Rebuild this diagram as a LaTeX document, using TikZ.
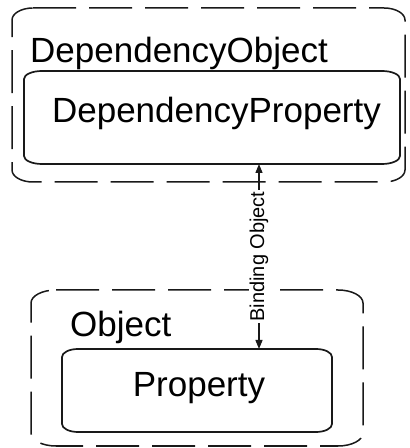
\documentclass[tikz,border=0pt]{standalone}
\usepackage{fontspec}
\setmainfont{Liberation Sans}
\usetikzlibrary{calc,arrows.meta}

% Frame with elliptical corners around a (textless) node: node, x radius, y radius, draw options
\newcommand{\ovalframe}[4]{%
  \draw[#4] let \p1=(#1.south west), \p2=(#1.north east) in
    (\x1+#2,\y2) -- (\x2-#2,\y2)
    arc[start angle=90,end angle=0,x radius=#2,y radius=#3]
    -- (\x2,\y1+#3)
    arc[start angle=0,end angle=-90,x radius=#2,y radius=#3]
    -- (\x1+#2,\y1)
    arc[start angle=270,end angle=180,x radius=#2,y radius=#3]
    -- (\x1,\y2-#3)
    arc[start angle=180,end angle=90,x radius=#2,y radius=#3] -- cycle;}

\tikzset{
  region/.style={draw=none,inner sep=0pt,outer sep=0pt},
  container/.style={line width=1.5pt,draw=black!90,dash pattern=on 43pt off 13pt},
  member/.style={line width=1.7pt,draw=black!90},
  title/.style={inner sep=0pt,anchor=base west,font=\fontsize{35}{40}\selectfont},
  member text/.style={inner sep=0pt,anchor=base,font=\fontsize{35}{40}\selectfont},
  binding/.style={line width=1.3pt,draw=black!90,
    {Triangle[length=9pt,width=7pt]}-{Triangle[length=9pt,width=7pt]}},
  binding label/.style={fill=white,inner sep=1pt,rotate=90,
    font=\fontsize{20}{22}\selectfont}
}

\begin{document}
\begin{tikzpicture}[x=1pt,y=1pt]
  \useasboundingbox (0,0) rectangle (410,448);

  % regions of the two objects and their properties
  \node[region,minimum width=393pt,minimum height=174pt] (depobj) at (208.5,353) {};
  \node[region,minimum width=376pt,minimum height=93pt] (depprop) at (212,330.5) {};
  \node[region,minimum width=332pt,minimum height=156pt] (obj) at (197,80) {};
  \node[region,minimum width=270pt,minimum height=83pt] (prop) at (197,57.5) {};

  \ovalframe{depobj}{21pt}{12pt}{container}
  \ovalframe{depprop}{18pt}{8pt}{member}
  \ovalframe{obj}{25pt}{13pt}{container}
  \ovalframe{prop}{16pt}{8pt}{member}

  % captions
  \node[title] (depobjtext) at (30,385) {DependencyObject};
  \node[member text] (depproptext) at (216.5,325) {DependencyProperty};
  \node[title] (objtext) at (70,111) {Object};
  \node[member text] (proptext) at (199,51) {Property};

  % binding between the two properties
  \coordinate (bx) at (259,0);
  \draw[binding] (bx |- depprop.south) -- (bx |- prop.north)
    node[midway,binding label] (bindtext) {Binding Object};
\end{tikzpicture}
\end{document}
